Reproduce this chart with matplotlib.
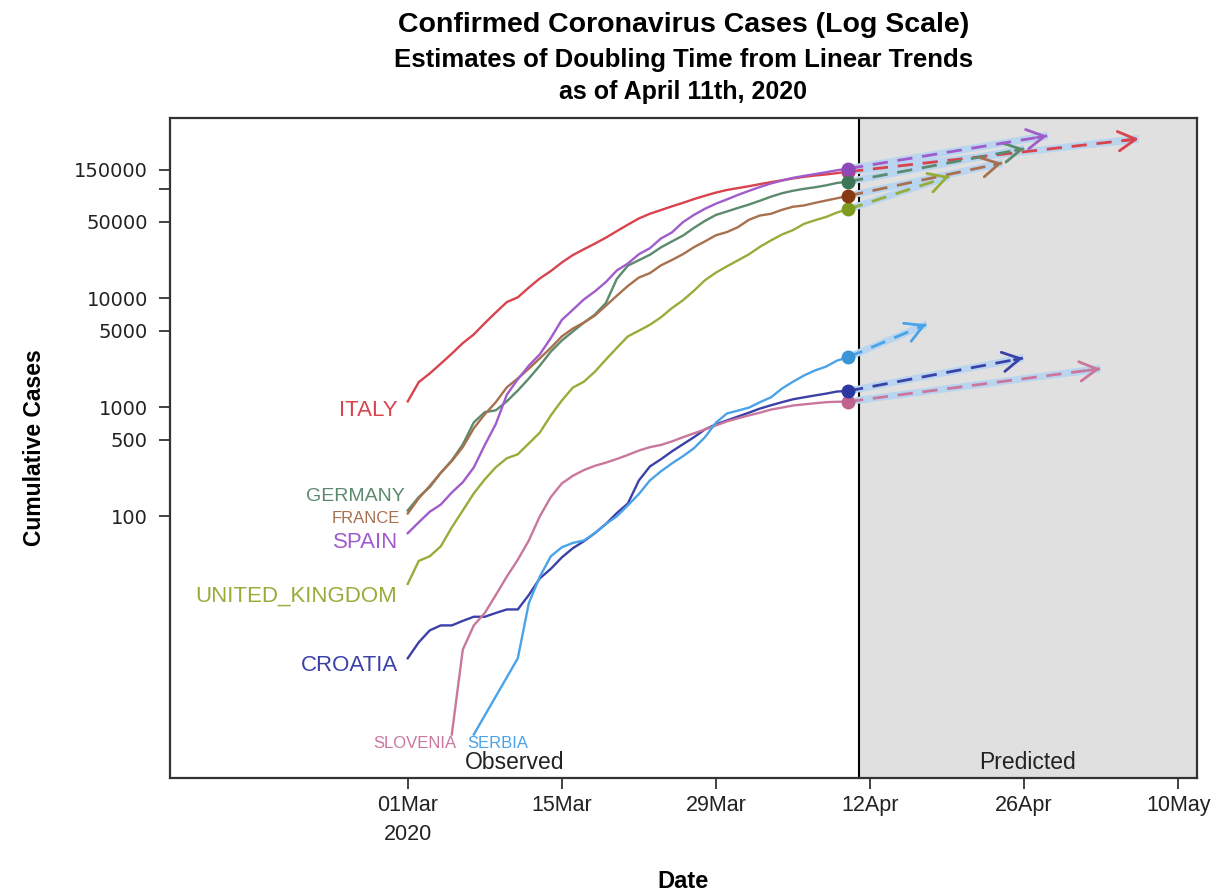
import numpy as np
import pandas as pd
import matplotlib
matplotlib.use('Agg')
import matplotlib.pyplot as plt
import matplotlib.dates as mdates
from matplotlib.ticker import NullLocator

plt.rcParams['font.family'] = 'Liberation Sans'

# ── Data (cumulative confirmed cases) ──
start = pd.Timestamp('2020-03-01')
last_obs = pd.Timestamp('2020-04-10')
cutoff = pd.Timestamp('2020-04-11')

days_full = list(range(0, 41))          # 01Mar .. 10Apr

italy = [1128, 1694, 2036, 2502, 3089, 3858, 4636, 5883, 7375, 9172, 10149,
         12462, 15113, 17660, 21157, 24747, 27980, 31506, 35713, 41035, 47021,
         53578, 59138, 63927, 69176, 74386, 80589, 86498, 92472, 97689, 101739,
         105792, 110574, 115242, 119827, 124632, 128948, 132547, 135586, 139422, 143626]
spain = [70, 88, 110, 128, 165, 205, 280, 450, 700, 1300, 1800,
         2400, 3050, 4300, 6300, 7800, 9700, 11500, 14000, 17900, 20700,
         25200, 28600, 35100, 39900, 49500, 57800, 65700, 73200, 80100, 88000,
         95900, 104100, 112100, 119200, 126200, 131600, 136700, 141900, 148200, 153200]
germany = [113, 150, 185, 250, 325, 455, 725, 900, 935, 1130, 1420,
           1830, 2400, 3230, 4080, 4930, 5950, 7050, 9000, 15000, 19800,
           22200, 24900, 29100, 33000, 37300, 43900, 50900, 57700, 62100, 66900,
           71800, 77900, 84800, 91200, 96100, 100100, 103400, 107700, 113300, 116500]
france = [106, 146, 190, 250, 320, 430, 640, 860, 1110, 1520, 1830,
          2250, 2800, 3500, 4450, 5250, 5950, 6900, 8500, 10500, 12900,
          15400, 16900, 19900, 22300, 25200, 29200, 33000, 37600, 40200, 44600,
          52100, 57000, 59100, 64300, 68600, 70500, 74400, 78200, 82000, 86300]
uk = [24, 39, 43, 53, 79, 113, 162, 218, 281, 340, 370,
      465, 585, 840, 1150, 1510, 1710, 2110, 2730, 3500, 4450,
      5018, 5683, 6650, 8077, 9529, 11658, 14543, 17089, 19522, 22141,
      25150, 29474, 33718, 38168, 41903, 47806, 51608, 55242, 60733, 65077]
croatia = [5, 7, 9, 10, 10, 11, 12, 12, 13, 14, 14,
           19, 27, 33, 42, 51, 59, 70, 85, 107, 131,
           213, 286, 333, 393, 457, 530, 625, 695, 755, 820,
           890, 970, 1040, 1110, 1180, 1230, 1280, 1330, 1390, 1407]
slovenia_days = list(range(4, 41))
slovenia = [1, 6, 10, 13, 19, 28, 40, 60, 100, 150, 200,
            235, 265, 290, 310, 335, 365, 400, 430, 450, 485,
            530, 575, 625, 680, 740, 790, 840, 890, 950, 990,
            1035, 1060, 1085, 1110, 1120, 1124]
serbia_days = [6] + list(range(10, 41))
serbia = [1, 5, 16, 28, 43, 52, 57, 60, 70, 85, 100,
          126, 160, 213, 258, 305, 355, 420, 530, 720, 875,
          930, 990, 1110, 1230, 1480, 1710, 1950, 2170, 2350, 2670, 2867]

# estimated doubling time (days) from linear trends
doubling = {'ITALY': 26.4, 'SPAIN': 18.1, 'GERMANY': 16.0, 'FRANCE': 14.0,
            'UNITED_KINGDOM': 9.2, 'SERBIA': 7.1, 'CROATIA': 15.9, 'SLOVENIA': 22.9}

series = {
    'ITALY': (days_full, italy),
    'GERMANY': (days_full, germany),
    'FRANCE': (days_full, france),
    'UNITED_KINGDOM': (days_full, uk),
    'SPAIN': (days_full, spain),
    'CROATIA': (days_full, croatia),
    'SLOVENIA': (slovenia_days, slovenia),
    'SERBIA': (serbia_days, serbia),
}

line_col = {'ITALY': '#d9434d', 'SPAIN': '#a05ccb', 'GERMANY': '#5b8a6c',
            'FRANCE': '#a8704e', 'UNITED_KINGDOM': '#97ad3a', 'SERBIA': '#4aa3e8',
            'CROATIA': '#3c41a8', 'SLOVENIA': '#c9779c'}
dot_col = {'ITALY': '#c8406a', 'SPAIN': '#8e48b8', 'GERMANY': '#3d7758',
           'FRANCE': '#8a3a12', 'UNITED_KINGDOM': '#7f9b1f', 'SERBIA': '#3b94d6',
           'CROATIA': '#2c37a0', 'SLOVENIA': '#c0638e'}

# label placement: (offset px from first point, font size, ha)
label_opts = {
    'ITALY': ((-10, -9), 16, 'right'),
    'GERMANY': ((-3, 14), 14, 'right'),
    'FRANCE': ((-8, -5), 12, 'right'),
    'SPAIN': ((-10, -9), 16, 'right'),
    'UNITED_KINGDOM': ((-11, -12), 16, 'right'),
    'CROATIA': ((-10, -7), 16, 'right'),
    'SLOVENIA': ((5, -9), 12, 'right'),
    'SERBIA': ((-7, -9), 12, 'left'),
}

band_col = '#b9d5ef'

# ── Plot ──
fig = plt.figure(figsize=(12.23, 8.94), dpi=100)
ax = fig.add_axes([0.139, 0.1298, 0.8397, 0.7382])

x_start = mdates.date2num(start)
x_last = mdates.date2num(last_obs)
x_cut = mdates.date2num(cutoff)
xmin, xmax = x_start - 21.6, x_start + 71.7

ax.axvspan(x_cut, xmax, color='#e0e0e0', zorder=0, lw=0)
ax.axvline(x_cut, color='black', lw=1.5, zorder=1)

for name, (d, v) in series.items():
    x = x_start + np.array(d)
    ax.plot(x, v, color=line_col[name], lw=1.7, zorder=3)
    off, fs, ha = label_opts[name]
    ax.annotate(name, xy=(x[0], v[0]), xytext=off, textcoords='offset pixels',
                ha=ha, va='center', fontsize=fs, color=line_col[name])

# predicted doubling arrows with a widening confidence band
for name, (d, v) in series.items():
    T = doubling[name]
    y0 = v[-1]
    x1, y1 = x_last + T, 2 * y0
    ax.fill([x_last, x1, x1], [y0, y1 * 1.09, y1 / 1.09],
            color=band_col, alpha=0.85, lw=0, zorder=2)
    ax.plot([x_last, x1], [y0, y1], color=band_col, lw=5, zorder=2,
            solid_capstyle='butt')
    ax.plot([x_last, x1], [y0, y1], color=line_col[name], lw=2,
            ls=(0, (5.5, 3.5)), zorder=4)
    xa, ya = x_last + 0.95 * T, y0 * 2 ** 0.95
    ax.annotate('', xy=(x1, y1), xytext=(xa, ya),
                arrowprops=dict(arrowstyle='->,head_length=0.9,head_width=0.5',
                                color=line_col[name], lw=2, shrinkA=0, shrinkB=0,
                                mutation_scale=14), zorder=4)

for name in ['ITALY', 'UNITED_KINGDOM', 'FRANCE', 'GERMANY', 'SPAIN',
             'SLOVENIA', 'CROATIA', 'SERBIA']:
    d, v = series[name]
    ax.plot(x_start + d[-1], v[-1], 'o', color=dot_col[name], ms=9, zorder=6)

ax.set_yscale('log')
ax.set_ylim(0.40, 446000)
ax.set_xlim(xmin, xmax)

yt = [100, 500, 1000, 5000, 10000, 50000, 100000, 150000]
ax.set_yticks(yt)
ax.set_yticklabels([str(t) if t != 100000 else '' for t in yt],
                   fontfamily='DejaVu Sans', fontsize=14, color='#222222')
ax.yaxis.set_minor_locator(NullLocator())

xt = [pd.Timestamp(s) for s in ['2020-03-01', '2020-03-15', '2020-03-29',
                                '2020-04-12', '2020-04-26', '2020-05-10']]
xt_labels = ['01Mar\n2020', '15Mar', '29Mar', '12Apr', '26Apr', '10May']
ax.set_xticks(mdates.date2num(xt))
ax.set_xticklabels(xt_labels, fontsize=15.5, color='#222222', linespacing=1.5)

ax.tick_params(axis='both', direction='out', length=8, width=1.3, color='#333333')
ax.tick_params(axis='y', pad=8)
ax.tick_params(axis='x', pad=4)
for sp in ax.spines.values():
    sp.set_linewidth(1.6)
    sp.set_color('#333333')

ax.set_xlabel('Date', fontsize=17, fontweight='bold', va='center')
ax.xaxis.set_label_coords(0.5, -0.157)
ax.set_ylabel('Cumulative Cases', fontsize=16.5, fontweight='bold', labelpad=20)

ax.text((xmin + x_cut) / 2, 0.023, 'Observed', transform=ax.get_xaxis_transform(),
        ha='center', va='center', fontsize=16.5, color='#222222')
ax.text((x_cut + xmax) / 2, 0.023, 'Predicted', transform=ax.get_xaxis_transform(),
        ha='center', va='center', fontsize=16.5, color='#222222')

cx = 0.139 + 0.8397 / 2
fig.text(cx, 0.972, 'Confirmed Coronavirus Cases (Log Scale)', ha='center',
         va='center', fontsize=20.5, fontweight='bold')
fig.text(cx, 0.933, 'Estimates of Doubling Time from Linear Trends', ha='center',
         va='center', fontsize=18.5, fontweight='bold')
fig.text(cx, 0.897, 'as of April 11th, 2020', ha='center', va='center',
         fontsize=18, fontweight='bold')

fig.savefig('out.png', dpi=100)
